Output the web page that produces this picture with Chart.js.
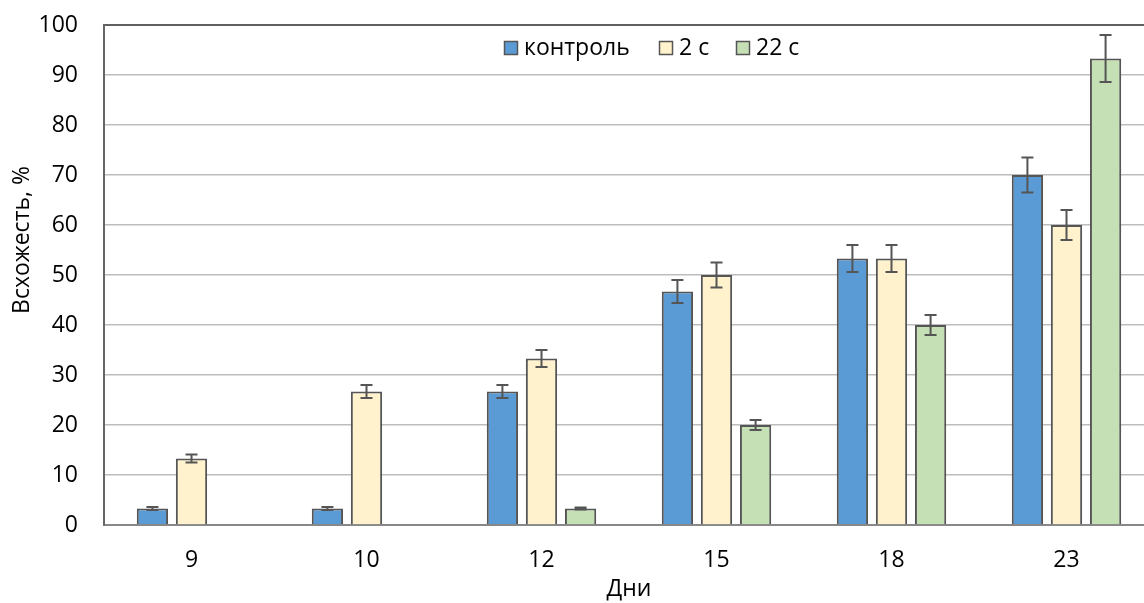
<!DOCTYPE html>
<html>
<head>
<meta charset="utf-8">
<script src="https://cdn.jsdelivr.net/npm/chart.js@4/dist/chart.umd.min.js"></script>
<style>
  html, body { margin: 0; padding: 0; background: #fff; overflow: hidden; }
  #wrap { width: 1160px; height: 603px; }
</style>
</head>
<body>
<div id="wrap"><canvas id="chart" width="1160" height="603"></canvas></div>
<script>
// данные
const days = ['9', '10', '12', '15', '18', '23'];
const seriesNames = ['контроль', '2 с', '22 с'];
const control = [3.3, 3.3, 26.7, 46.7, 53.3, 70];
const twoSec = [13.3, 26.7, 33.3, 50, 53.3, 60];
const twentyTwoSec = [0, 0, 3.3, 20, 40, 93.3];
const controlErr = [0.3, 0.3, 1.3, 2.3, 2.7, 3.5];
const twoSecErr = [0.8, 1.3, 1.7, 2.5, 2.7, 3];
const twentyTwoSecErr = [0, 0, 0.2, 1, 2, 4.7];
const yTicks = [0, 10, 20, 30, 40, 50, 60, 70, 80, 90, 100];
const yTitle = 'Всхожесть, %';
const xTitle = 'Дни';

const FONT = '"Open Sans", sans-serif';
const FS = 23;
const edge = '#555555';

// усы погрешностей
const errorBars = {
    id: 'errorBars',
    afterDatasetsDraw(chart) {
        const ctx = chart.ctx;
        const y = chart.scales.y;
        chart.data.datasets.forEach((ds, i) => {
            const meta = chart.getDatasetMeta(i);
            meta.data.forEach((bar, j) => {
                const v = ds.data[j];
                const e = ds.errors[j];
                if (!v) return;
                const top = y.getPixelForValue(v + e);
                const bot = y.getPixelForValue(v - e);
                ctx.save();
                ctx.strokeStyle = edge;
                ctx.lineWidth = 2;
                ctx.beginPath();
                ctx.moveTo(bar.x, top); ctx.lineTo(bar.x, bot);
                ctx.moveTo(bar.x - 6, top); ctx.lineTo(bar.x + 6, top);
                ctx.moveTo(bar.x - 6, bot); ctx.lineTo(bar.x + 6, bot);
                ctx.stroke();
                ctx.restore();
            });
        });
    }
};

// легенда внутри области графика и подпись оси Y
const extras = {
    id: 'extras',
    afterDraw(chart) {
        const ctx = chart.ctx;
        const xs = [504, 659, 736];
        ctx.save();
        ctx.font = FS + 'px ' + FONT;
        ctx.textBaseline = 'middle';
        chart.data.datasets.forEach((ds, i) => {
            ctx.fillStyle = ds.backgroundColor;
            ctx.fillRect(xs[i], 41, 14, 14);
            ctx.strokeStyle = edge;
            ctx.lineWidth = 1.5;
            ctx.strokeRect(xs[i] + 0.5, 41.5, 13, 13);
            ctx.fillStyle = '#000';
            ctx.fillText(ds.label, xs[i] + 20, 48);
        });
        ctx.translate(22, 240);
        ctx.rotate(-Math.PI / 2);
        ctx.textAlign = 'center';
        ctx.fillText(yTitle, 0, 0);
        ctx.restore();
    }
};

function makeSet(label, data, errors, color) {
    return {
        label: label,
        data: data,
        errors: errors,
        backgroundColor: color,
        borderColor: edge,
        borderWidth: 2,
        categoryPercentage: 0.67,
        barPercentage: 0.8
    };
}

new Chart(document.getElementById('chart'), {
    type: 'bar',
    data: {
        labels: days,
        datasets: [
            makeSet(seriesNames[0], control, controlErr, '#5B9BD5'),
            makeSet(seriesNames[1], twoSec, twoSecErr, '#FFF2CC'),
            makeSet(seriesNames[2], twentyTwoSec, twentyTwoSecErr, '#C5E0B4')
        ]
    },
    options: {
        responsive: false,
        animation: false,
        layout: { padding: { top: 25, right: 6, left: 0, bottom: 0 } },
        plugins: {
            legend: { display: false },
            tooltip: { enabled: false }
        },
        scales: {
            x: {
                grid: { display: false, drawTicks: false },
                border: { color: '#888', width: 2 },
                ticks: { color: '#000', font: { family: FONT, size: FS }, padding: 22 },
                title: { display: true, text: xTitle, color: '#000', font: { family: FONT, size: FS }, padding: { top: 0, bottom: 0 } },
                afterFit: s => { s.height = 78; s.paddingLeft = 0; s.paddingRight = 0; }
            },
            y: {
                min: 0,
                max: 100,
                afterBuildTicks: s => { s.ticks = yTicks.map(v => ({ value: v })); },
                grid: {
                    drawTicks: false,
                    color: c => c.tick.value === 100 ? '#606060' : '#bdbdbd',
                    lineWidth: c => c.tick.value === 100 ? 2 : 1.5
                },
                border: { color: '#666', width: 2 },
                ticks: { color: '#000', font: { family: FONT, size: FS }, padding: 26 },
                afterFit: s => { s.width = 104; s.paddingTop = 0; s.paddingBottom = 0; }
            }
        }
    },
    plugins: [errorBars, extras]
});
</script>
</body>
</html>
